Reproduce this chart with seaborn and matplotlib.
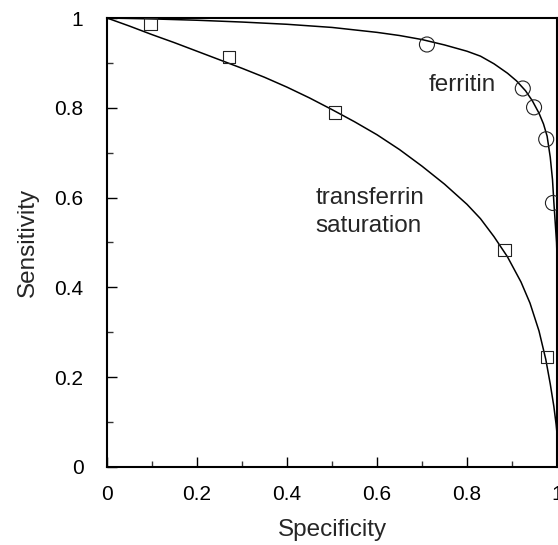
import matplotlib
matplotlib.use("Agg")
import matplotlib.pyplot as plt
import seaborn as sns
import pandas as pd
from matplotlib.ticker import FixedLocator, MultipleLocator

# ---- data ----
transferrin_spec = [0.096, 0.271, 0.507, 0.884, 0.978]
transferrin_sens = [0.987, 0.913, 0.790, 0.483, 0.245]

ferritin_spec = [0.711, 0.924, 0.949, 0.976, 0.991]
ferritin_sens = [0.941, 0.843, 0.801, 0.730, 0.588]

transferrin_curve_x = [0.0, 0.05, 0.10, 0.15, 0.20, 0.25, 0.30, 0.35, 0.40, 0.45, 0.50, 0.55,
                       0.60, 0.65, 0.70, 0.75, 0.80, 0.83, 0.86, 0.89, 0.92, 0.94, 0.96, 0.975,
                       0.985, 0.993, 0.998, 1.0, 1.0]
transferrin_curve_y = [1.0, 0.982, 0.963, 0.945, 0.926, 0.907, 0.888, 0.868, 0.846, 0.822, 0.796,
                       0.769, 0.740, 0.707, 0.670, 0.630, 0.585, 0.553, 0.513, 0.468, 0.412, 0.365,
                       0.303, 0.240, 0.185, 0.135, 0.095, 0.075, 0.0]

ferritin_curve_x = [0.0, 0.1, 0.2, 0.3, 0.4, 0.5, 0.6, 0.65, 0.7, 0.75, 0.8, 0.83, 0.86, 0.89,
                    0.91, 0.93, 0.945, 0.96, 0.97, 0.978, 0.985, 0.99, 0.993, 0.996, 0.999,
                    1.0, 1.0]
ferritin_curve_y = [1.0, 0.998, 0.995, 0.991, 0.986, 0.979, 0.968, 0.961, 0.952, 0.940, 0.926,
                    0.915, 0.898, 0.877, 0.860, 0.838, 0.816, 0.788, 0.764, 0.737, 0.690, 0.640,
                    0.590, 0.545, 0.500, 0.470, 0.0]

tick_values = [0, 0.2, 0.4, 0.6, 0.8, 1]
tick_labels = ["0", "0.2", "0.4", "0.6", "0.8", "1"]

sns.set_style("ticks")
plt.rcParams['font.family'] = ['Liberation Sans', 'DejaVu Sans']

fig = plt.figure(figsize=(5.58, 5.45), dpi=100)
ax = fig.add_axes([107 / 558, 78 / 545, 450 / 558, 449 / 545])

tc = pd.DataFrame({"x": transferrin_curve_x, "y": transferrin_curve_y})
fc = pd.DataFrame({"x": ferritin_curve_x, "y": ferritin_curve_y})
sns.lineplot(data=tc, x="x", y="y", sort=False, color="black", lw=1.1, ax=ax, estimator=None)
sns.lineplot(data=fc, x="x", y="y", sort=False, color="black", lw=1.1, ax=ax, estimator=None)

tp = pd.DataFrame({"x": transferrin_spec, "y": transferrin_sens})
fp = pd.DataFrame({"x": ferritin_spec, "y": ferritin_sens})
sns.scatterplot(data=tp, x="x", y="y", marker="s", s=83, facecolor="none",
                edgecolor="#222222", linewidth=0.8, ax=ax, zorder=3)
sns.scatterplot(data=fp, x="x", y="y", marker="o", s=117, facecolor="none",
                edgecolor="#222222", linewidth=0.8, ax=ax, zorder=3)

ax.set_xlim(0, 1)
ax.set_ylim(0, 1)
ax.xaxis.set_major_locator(FixedLocator(tick_values))
ax.yaxis.set_major_locator(FixedLocator(tick_values))
ax.set_xticklabels(tick_labels)
ax.set_yticklabels(tick_labels)
ax.xaxis.set_minor_locator(MultipleLocator(0.1))
ax.yaxis.set_minor_locator(MultipleLocator(0.1))
ax.tick_params(which="major", direction="in", length=7.5, width=1.0, labelsize=15,
               top=False, right=False, color="black", labelcolor="black")
ax.tick_params(axis="x", which="major", pad=13)
ax.tick_params(axis="y", which="major", pad=17)
ax.tick_params(which="minor", direction="in", length=4, width=1.0, top=False, right=False,
               color="#333333")

for s in ax.spines.values():
    s.set_visible(True)
    s.set_linewidth(1.5)
    s.set_color("black")

ax.set_xlabel("Specificity", fontsize=17.5, labelpad=11)
ax.set_ylabel("Sensitivity", fontsize=17.5, labelpad=11)

ax.text(0.789, 0.851, "ferritin", fontsize=17.5, ha="center", va="center")
ax.text(0.464, 0.568, "transferrin\nsaturation", fontsize=17.5, ha="left", va="center",
        linespacing=1.4)

fig.savefig("out.png", dpi=100, facecolor="white")
